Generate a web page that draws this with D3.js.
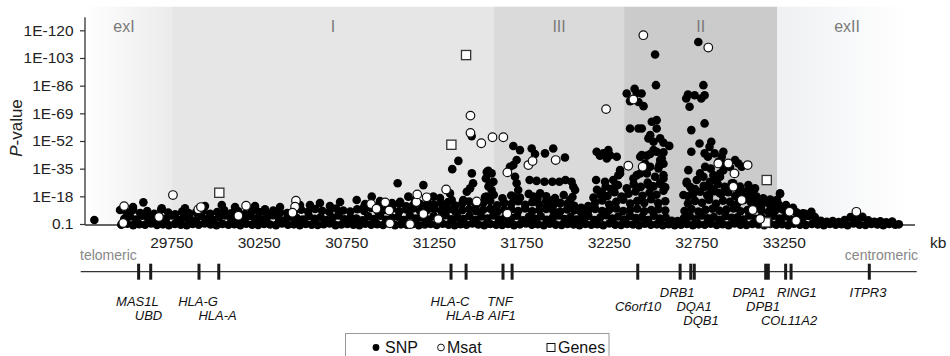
<!DOCTYPE html>
<html><head><meta charset="utf-8">
<script src="https://cdn.jsdelivr.net/npm/d3@7"></script>
<style>body{margin:0;background:#fff}svg{display:block;font-family:"Liberation Sans",Arial,Helvetica,sans-serif}</style>
</head><body><svg id="c" width="950" height="356"></svg>
<script>
// ---------------- data ----------------
const yTickValues = [1, 18, 35, 52, 69, 86, 103, 120];            // -log10(P)
const yTickLabels = ["0.1", "1E-18", "1E-35", "1E-52", "1E-69", "1E-86", "1E-103", "1E-120"];
const xTickValues = [29750, 30250, 30750, 31250, 31750, 32250, 32750, 33250]; // kb
const regionNames = ["exI", "I", "III", "II", "exII"];
const regionStart = [29250, 29750, 31592, 32335, 33210];
const regionEnd   = [29750, 31592, 32335, 33210, 33950];
const geneNames = ["MAS1L","UBD","HLA-G","HLA-A","HLA-C","HLA-B","TNF","AIF1","C6orf10","DRB1","DQA1","DQB1","DPA1","DPB1","RING1","COL11A2","ITPR3"];
const geneKb    = [29561, 29630, 29906, 30019, 31346, 31432, 31643, 31695, 32413, 32655, 32716, 32736, 33144, 33159, 33258, 33289, 33736];
// gene-based tests: [kb, -log10 P]
const genes = [[30022,20.2],[31348,49.7],[31432,104.8],[33150,28.0],[33145,2.0]];
// microsatellites: [kb, -log10 P]
const msat = [[29478,12.0],[29473,1.6],[29677,5.3],[29757,18.8],[29902,10.0],[29917,11.4],[30131,6.1],[30175,12.2],
 [30460,15.3],[30455,11.6],[30440,7.9],[30889,13.3],[30920,10.4],[30970,14.3],[30993,9.3],[30997,1.4],[31112,0.9],
 [31148,14.5],[31153,19.2],[31207,17.4],[31188,7.1],[31273,4.0],[31318,22.2],[31457,67.6],[31457,57.0],[31519,50.6],
 [31583,54.3],[31645,54.3],[31493,14.9],[31668,32.7],[31667,7.4],[31788,37.2],[31812,39.7],[31944,40.3],[32232,71.6],
 [32359,36.8],[32388,77.5],[32441,36.2],[32445,117.0],[32816,109.4],[32873,38.2],[32930,38.2],[33041,37.2],[32965,32.1],
 [32959,23.9],[33007,15.7],[33070,9.6],[33112,4.1],[33280,8.5],[33318,3.0],[33662,8.5]];
// SNPs: [kb, -log10 P]
const snp = [
 // lowest layer
 [29462,0.6],[29496,1.2],[29530,0.3],[29564,0.9],[29598,0.5],[29632,1.3],[29666,0.4],[29700,0.8],[29734,0.2],[29768,1.1],
 [29802,0.6],[29836,0.3],[29870,1.0],[29904,0.5],[29938,1.4],[29972,0.7],[30006,0.3],[30040,1.1],[30074,0.5],[30108,0.9],
 [30142,0.2],[30176,1.2],[30210,0.6],[30244,0.4],[30278,1.0],[30312,0.7],[30346,0.3],[30380,1.3],[30414,0.5],[30448,0.8],
 [30482,0.2],[30516,1.1],[30550,0.6],[30584,0.4],[30618,0.9],[30652,1.4],[30686,0.3],[30720,0.7],[30754,1.0],[30788,0.5],
 [30822,0.2],[30856,1.2],[30890,0.6],[30924,0.9],[30958,0.4],[30992,1.3],[31026,0.3],[31060,0.8],[31094,0.5],[31128,1.1],
 [31162,0.2],[31196,0.7],[31230,1.0],[31264,0.4],[31298,1.2],[31332,0.6],[31366,0.3],[31400,0.9],[31434,0.5],[31468,1.3],
 [31502,0.7],[31536,0.2],[31570,1.0],[31604,0.6],[31638,0.4],[31672,1.1],[31706,0.3],[31740,0.8],[31774,1.4],[31808,0.5],
 [31842,0.9],[31876,0.2],[31910,1.2],[31944,0.6],[31978,0.4],[32012,1.0],[32046,0.7],[32080,0.3],[32114,1.1],[32148,0.5],
 [32182,0.9],[32216,0.2],[32250,1.3],[32284,0.6],[32318,0.4],[32352,1.0],[32386,0.7],[32420,0.3],[32454,1.2],[32488,0.5],
 [32522,0.8],[32556,0.2],[32590,0.9],[32624,0.3],[32660,0.6],[32694,1.1],[32728,0.3],[32762,0.8],[32796,0.5],[32830,1.2],
 [32864,0.4],[32898,0.9],[32932,0.2],[32966,1.3],[33000,0.6],[33034,0.4],[33068,1.0],[33102,0.7],[33136,0.3],[33170,1.1],
 [33204,0.5],[33238,0.9],[33272,0.2],[33306,1.2],[33340,0.6],[33374,0.4],[33408,1.0],[33442,0.7],[33476,0.3],[33510,1.1],
 [33544,0.5],[33578,0.9],[33612,0.2],[33646,1.3],[33680,0.6],[33714,0.4],[33748,1.0],[33782,0.7],[33816,0.3],[33850,1.1],
 [33884,0.5],[33905,0.8],
 // second layer
 [29479,4.2],[29513,5.6],[29547,3.8],[29581,6.1],[29615,4.5],[29649,3.3],[29683,5.2],[29717,4.0],[29751,6.3],[29785,3.6],
 [29819,5.0],[29853,4.4],[29887,3.2],[29921,5.8],[29955,4.1],[29989,3.5],[30023,5.4],[30057,6.2],[30091,3.9],[30125,4.7],
 [30159,3.4],[30193,5.9],[30227,4.3],[30261,3.7],[30295,5.1],[30329,6.4],[30363,4.0],[30397,3.3],[30431,5.5],[30465,4.6],
 [30499,3.8],[30533,6.0],[30567,4.2],[30601,5.3],[30635,3.5],[30669,4.9],[30703,6.3],[30737,3.9],[30771,5.0],[30805,4.4],
 [30839,3.2],[30873,5.7],[30907,4.1],[30941,6.1],[30975,3.6],[31009,4.8],[31043,5.5],[31077,3.4],[31111,6.2],[31145,4.3],
 [31179,5.1],[31213,3.7],[31247,5.9],[31281,4.5],[31315,6.4],[31349,3.9],[31383,5.2],[31417,4.0],[31451,6.0],[31485,3.5],
 [31519,5.6],[31553,4.4],[31587,6.3],[31621,3.8],[31655,5.0],[31689,4.6],[31723,6.1],[31757,3.3],[31791,5.4],[31825,4.2],
 [31859,5.8],[31893,3.6],[31927,4.9],[31961,6.2],[31995,4.1],[32029,5.3],[32063,3.7],[32097,4.5],[32131,5.9],[32165,3.4],
 [32199,5.0],[32233,6.4],[32267,4.3],[32301,5.6],[32335,3.8],[32369,6.0],[32403,4.7],[32437,5.2],[32471,3.5],[32505,6.1],
 [32539,4.4],[32573,5.0],[32607,3.0],[32641,2.8],[32677,4.6],[32711,5.7],[32745,3.9],[32779,6.2],[32813,4.5],[32847,5.3],
 [32881,3.6],[32915,6.0],[32949,4.8],[32983,5.1],[33017,3.7],[33051,6.3],[33085,4.2],[33119,5.5],[33153,3.9],[33187,6.1],
 [33221,4.4],[33255,5.6],[33289,3.5],[33323,5.0],[33357,4.8],[33391,6.0],[33425,5.2],[33459,3.0],[33493,2.4],[33527,2.8],
 [33561,2.2],[33595,3.4],[33629,5.2],[33663,4.6],[33697,5.4],[33731,3.2],[33765,2.3],[33799,2.7],[33833,2.0],[33867,2.5],
 [33370,7.2],[33405,6.8],
 // third layer
 [29490,8.5],[29530,9.6],[29570,7.8],[29610,8.9],[29650,7.2],[29690,9.9],[29730,8.1],[29770,7.0],[29810,8.6],[29850,7.5],
 [29890,8.2],[29930,9.1],[29970,7.3],[30010,8.4],[30050,9.5],[30090,7.6],[30130,8.8],[30170,7.1],[30210,9.0],[30250,8.3],
 [30290,7.4],[30330,9.2],[30370,8.0],[30410,7.7],[30450,8.9],[30490,9.8],[30530,8.6],[30570,10.2],[30610,9.1],[30650,8.4],
 [30690,10.5],[30730,9.3],[30770,8.7],[30810,10.1],[30850,9.0],[30890,10.8],[30930,8.5],[30970,9.7],[31010,10.4],[31050,8.8],
 [31090,9.9],[31130,10.6],[31170,8.9],[31210,9.6],[31250,10.3],[31290,9.2],[31330,10.0],[31370,8.7],[31410,9.5],[31450,10.2],
 [31490,8.9],[31530,9.8],[31570,10.4],[31610,8.6],[31650,9.7],[31690,10.1],[31730,9.0],[31770,10.5],[31810,8.8],[31850,9.6],
 [31890,10.2],[31930,9.1],[31970,8.7],[32010,10.0],[32050,9.4],[32090,8.0],[32130,9.2],[32170,10.3],[32210,8.9],[32250,9.7],
 [32290,10.5],[32330,9.0],[32370,9.8],[32410,10.4],[32450,8.8],[32490,9.6],[32530,10.1],[32570,9.3],[32680,9.0],[32720,10.2],
 [32760,8.6],[32800,9.7],[32840,10.4],[32880,9.1],[32920,9.9],[32960,10.5],[33000,8.8],[33040,9.6],[33080,10.2],[33120,9.3],
 [33160,8.5],[33200,9.4],[33240,10.0],[33280,8.9],[33320,8.2],
 // fourth layer
 [30850,11.8],[30890,13.0],[30930,12.2],[30970,11.5],[31010,12.8],[31050,13.5],[31090,11.9],[31130,12.6],[31170,13.2],[31210,11.7],
 [31250,12.9],[31290,13.8],[31330,14.5],[31370,12.4],[31410,13.6],[31450,14.8],[31490,12.7],[31530,13.9],[31570,15.2],[31610,12.5],
 [31650,14.1],[31690,13.3],[31730,15.0],[31770,12.8],[31810,14.4],[31850,13.1],[31890,15.3],[31930,12.6],[31970,14.0],[32010,13.4],
 [32050,12.2],[32090,11.0],[32130,12.0],[32170,14.2],[32210,15.5],[32250,13.0],[32290,14.7],[32330,16.0],[32370,13.5],[32410,15.1],
 [32450,14.0],[32490,16.2],[32530,13.8],[32570,15.0],[32700,13.6],[32740,15.2],[32780,14.1],[32820,16.0],[32860,13.4],[32900,15.3],
 [32940,14.6],[32980,13.2],[33020,15.8],[33060,14.3],[33100,12.9],[33140,14.9],[33180,13.0],[33220,12.5],[33260,11.8],[33300,11.0],
 // fifth layer
 [31540,17.5],[31590,19.0],[31640,16.8],[31690,18.5],[31740,17.2],[31790,19.5],[31840,16.6],[31890,18.0],[31940,17.0],[31990,18.8],
 [32040,17.6],[32160,17.2],[32200,19.0],[32240,18.2],[32280,20.5],[32320,17.8],[32360,19.6],[32400,21.0],[32440,18.4],[32480,20.2],
 [32520,19.0],[32560,21.5],[32700,18.0],[32730,19.5],[32770,20.8],[32810,18.6],[32850,21.2],[32890,19.4],[32930,20.6],[32970,18.2],
 [33010,19.8],[33050,17.5],[33090,18.0],[33130,16.8],[33170,16.0],[33210,15.0],
 [32180,22.0],[32230,24.0],[32260,22.5],[32300,25.0],[32350,23.0],[32390,25.5],[32430,23.8],[32470,26.5],[32500,24.2],[32540,25.8],
 [32570,23.5],[32740,22.5],[32790,24.5],[32830,23.0],[32870,25.5],[32910,23.8],[32950,26.0],[32990,22.0],[33030,21.0],
 // scattered higher SNPs
 [29308,3.5],[29588,14.3],[29455,9.6],[29529,11.4],[29693,10.6],[30036,12.7],[29826,10.6],[29940,12.0],[30112,11.4],[30226,12.0],
 [30283,10.0],[30369,11.4],[30483,12.7],[30540,12.7],[30597,13.9],[30654,12.0],[30712,14.5],[30807,15.7],[30855,13.3],[30893,17.8],
 [30940,15.1],[31009,13.9],[31041,26.0],[31055,14.7],[31102,17.8],[31140,15.7],[31188,24.9],[31214,13.9],[31245,17.8],[31283,17.0],
 [31340,19.8],[31350,15.7],[31320,11.6],[31353,34.7],[31388,39.8],[31416,15.7],[31436,20.8],[31455,22.9],[31472,26.0],[31465,32.1],
 [31464,55.0],[31550,33.0],[31559,33.7],[31578,32.1],[31588,27.0],[31569,26.0],[31578,21.9],[31550,17.8],[31560,24.0],[31545,29.0],
 [31702,48.9],[31740,46.4],[31807,47.4],[31826,44.0],[31883,44.4],[31930,47.4],[31997,41.9],[31721,40.3],[31702,37.2],[31683,36.2],
 [31721,26.0],[31730,21.9],[31702,17.8],[31712,30.0],[31795,28.0],[31835,27.5],[31880,27.0],[31925,27.0],[31965,27.0],[32000,28.0],
 [32035,27.0],[32045,23.9],[32055,21.9],[31855,19.8],[31817,17.8],[31902,13.7],[31969,13.7],[32026,15.7],[31929,15.7],[32015,12.7],
 [31893,11.6],
 [32178,45.4],[32216,44.4],[32254,43.3],[32293,42.3],[32245,46.4],[32236,41.3],[32197,43.0],[32175,28.0],[32226,27.0],[32207,20.8],
 [32312,32.1],[32283,23.9],[32273,28.0],[32302,31.0],[32350,81.2],[32369,76.5],[32407,81.5],[32435,81.2],[32417,76.0],[32446,73.4],
 [32395,84.0],[32512,105.1],[32517,86.3],[32369,59.7],[32417,59.7],[32436,59.7],[32521,64.8],[32493,63.8],[32521,59.7],[32484,55.6],
 [32474,53.6],[32503,51.5],[32541,53.6],[32560,50.9],[32503,46.4],[32521,45.4],[32436,43.3],[32427,42.3],[32455,38.2],[32550,41.3],
 [32541,40.3],[32484,36.2],[32531,35.2],[32560,31.0],[32512,30.0],[32465,32.1],[32407,31.0],[32312,34.1],[32388,29.0],[32593,49.0],
 [32560,45.0],[32484,44.0],[32465,43.0],[32536,37.0],[32560,38.0],[32427,32.0],[32560,29.0],[32541,26.0],[32503,24.0],[32474,25.0],
 [32560,24.0],
 [32759,112.8],[32788,86.3],[32690,78.1],[32709,73.0],[32738,80.1],[32795,80.1],[32776,78.1],[32700,80.5],[32719,58.7],[32795,62.8],
 [32766,50.5],[32795,44.4],[32719,45.4],[32833,51.5],[32823,48.4],[32814,42.3],[32852,44.4],[32902,45.4],[32893,42.3],[32874,39.2],
 [32969,40.3],[32988,38.2],[33007,36.2],[32902,34.1],[32883,30.0],[32845,31.0],[32826,27.0],[32788,30.0],[32798,23.9],[33045,24.9],
 [33083,22.9],[33064,19.8],[33093,15.7],[33102,12.7],[33121,12.7],[32702,34.1],[32693,26.0],[32719,22.9],[32750,28.0],[32769,32.1],
 [32798,36.2],[32693,27.0],[32712,23.9],[32674,18.8],[33226,19.4],[33178,12.7],[33207,11.6],[33188,8.5],[32902,38.0],[32940,36.0],
 [32969,32.0],[32883,32.0],[32959,26.0],[32997,24.0],[33055,22.0],[33016,17.7],[33074,15.7],[33112,13.7],[33169,12.7],[33207,15.7],
 [33226,19.8],[32830,35.0],[32860,28.0],[32845,22.0],[32880,20.0],[32820,18.0],[33260,12.7],[33300,9.6],[33357,7.6],[33405,8.5]
];

// ---------------- layout ----------------
const svg = d3.select("#c");
const x = d3.scaleLinear().domain([29250, 34000]).range([84.2, 915.5]);
const y = d3.scaleLinear().domain([1, 128]).range([224, 17.3]);
const bandTop = 6.7, axisY = 225;
const regionFill = ["url(#gExI)", "#e6e6e6", "#dadada", "#cbcbcb", "url(#gExII)"];
const regionLabelDx = [-4, 0, 0, 0, 27];
const labelRow = [301, 315, 301, 315, 301, 315, 301, 315, 306.5, 292, 306.5, 320, 292, 306.5, 292, 320, 292];
const labelDx  = [-1.2, -2.2, -1, -1.2, -1, -1, -3, -10, 0.3, -3, 3.3, 6.7, -16.7, -5.3, 11.3, -2, -1.3];

const defs = svg.append("defs");
const g1 = defs.append("linearGradient").attr("id", "gExI").attr("x1", "0").attr("x2", "1").attr("y1", "0").attr("y2", "0");
g1.append("stop").attr("offset", "0").attr("stop-color", "#ffffff");
g1.append("stop").attr("offset", "1").attr("stop-color", "#ebebeb");
const g2 = defs.append("linearGradient").attr("id", "gExII").attr("x1", "0").attr("x2", "1").attr("y1", "0").attr("y2", "0");
g2.append("stop").attr("offset", "0").attr("stop-color", "#eef0f2");
g2.append("stop").attr("offset", "1").attr("stop-color", "#ffffff");

// region bands
svg.append("g").selectAll("rect").data(regionNames).join("rect")
  .attr("x", (d, i) => x(regionStart[i]))
  .attr("y", bandTop)
  .attr("width", (d, i) => x(regionEnd[i]) - x(regionStart[i]))
  .attr("height", axisY - bandTop)
  .attr("fill", (d, i) => regionFill[i]);
svg.append("g").selectAll("text").data(regionNames).join("text")
  .attr("x", (d, i) => x((regionStart[i] + Math.min(regionEnd[i], 33700)) / 2) + regionLabelDx[i])
  .attr("y", 31.5)
  .attr("text-anchor", "middle")
  .attr("font-size", 16)
  .attr("fill", "#7a7a7a")
  .text(d => d);

// y axis
const yAxis = svg.append("g").attr("transform", "translate(85,0)")
  .call(d3.axisLeft(y).tickValues(yTickValues).tickFormat((d, i) => yTickLabels[i]).tickSize(5).tickSizeOuter(0));
yAxis.select(".domain").attr("d", `M0,${y(128)}V${axisY}`).attr("stroke", "#333").attr("stroke-width", 1.3);
yAxis.selectAll(".tick line").attr("stroke", "#333").attr("stroke-width", 1.2);
yAxis.selectAll(".tick text").attr("font-size", 15.5).attr("fill", "#222").attr("x", -11.5)
  .attr("font-family", '"Liberation Sans",Arial,sans-serif');

const yl = svg.append("text").attr("transform", "translate(22,128) rotate(-90)")
  .attr("text-anchor", "middle").attr("font-size", 17).attr("fill", "#222");
yl.append("tspan").attr("font-style", "italic").text("P");
yl.append("tspan").text("-value");

// x axis line
svg.append("line").attr("x1", 85).attr("x2", 915).attr("y1", axisY).attr("y2", axisY)
  .attr("stroke", "#333").attr("stroke-width", 1.3);

// points
const r = 4.3;
svg.append("g").selectAll("circle").data(snp).join("circle")
  .attr("cx", d => x(d[0])).attr("cy", d => y(d[1])).attr("r", r).attr("fill", "#000");
svg.append("g").selectAll("rect").data(genes).join("rect")
  .attr("x", d => x(d[0]) - 4.6).attr("y", d => y(d[1]) - 4.6).attr("width", 9.2).attr("height", 9.2)
  .attr("fill", "#fff").attr("stroke", "#333").attr("stroke-width", 1.3);
svg.append("g").selectAll("circle").data(msat).join("circle")
  .attr("cx", d => x(d[0])).attr("cy", d => y(d[1])).attr("r", r)
  .attr("fill", "#fff").attr("stroke", "#111").attr("stroke-width", 1.2);

// x tick labels
svg.append("g").selectAll("text").data(xTickValues).join("text")
  .attr("x", d => x(d)).attr("y", 247.5).attr("text-anchor", "middle")
  .attr("font-size", 15.5).attr("fill", "#222").text(d => d);
svg.append("text").attr("x", 930).attr("y", 247.5).attr("font-size", 15.5).attr("fill", "#222").text("kb");

// gene track
const trackY = 271.7;
svg.append("line").attr("x1", 80.7).attr("x2", 916.7).attr("y1", trackY).attr("y2", trackY)
  .attr("stroke", "#333").attr("stroke-width", 1.3);
svg.append("g").selectAll("rect").data(geneKb).join("rect")
  .attr("x", d => x(d) - 1.5).attr("y", trackY - 8).attr("width", 3).attr("height", 16).attr("fill", "#1a1a1a");
svg.append("g").selectAll("text").data(geneNames).join("text")
  .attr("x", (d, i) => x(geneKb[i]) + labelDx[i]).attr("y", (d, i) => labelRow[i] + 4.7)
  .attr("text-anchor", "middle").attr("font-size", 13).attr("font-style", "italic").attr("fill", "#111")
  .text(d => d);
svg.append("text").attr("x", 80).attr("y", 259.5).attr("font-size", 14).attr("fill", "#888").text("telomeric");
svg.append("text").attr("x", 918).attr("y", 259.5).attr("font-size", 14).attr("fill", "#888")
  .attr("text-anchor", "end").text("centromeric");

// legend
const lg = svg.append("g");
lg.append("rect").attr("x", 345.5).attr("y", 333.5).attr("width", 263.5).attr("height", 30)
  .attr("fill", "#fff").attr("stroke", "#999").attr("stroke-width", 1);
lg.append("circle").attr("cx", 376).attr("cy", 347.5).attr("r", 3.4).attr("fill", "#000");
lg.append("text").attr("x", 385).attr("y", 353).attr("font-size", 16).attr("fill", "#111").text("SNP");
lg.append("circle").attr("cx", 441).attr("cy", 347.5).attr("r", 3.4).attr("fill", "#fff").attr("stroke", "#111").attr("stroke-width", 1);
lg.append("text").attr("x", 447).attr("y", 353).attr("font-size", 16).attr("fill", "#111").text("Msat");
lg.append("rect").attr("x", 547).attr("y", 343.5).attr("width", 8).attr("height", 8).attr("fill", "#fff").attr("stroke", "#111").attr("stroke-width", 1);
lg.append("text").attr("x", 558).attr("y", 353).attr("font-size", 16).attr("fill", "#111").text("Genes");
</script>
</body></html>
